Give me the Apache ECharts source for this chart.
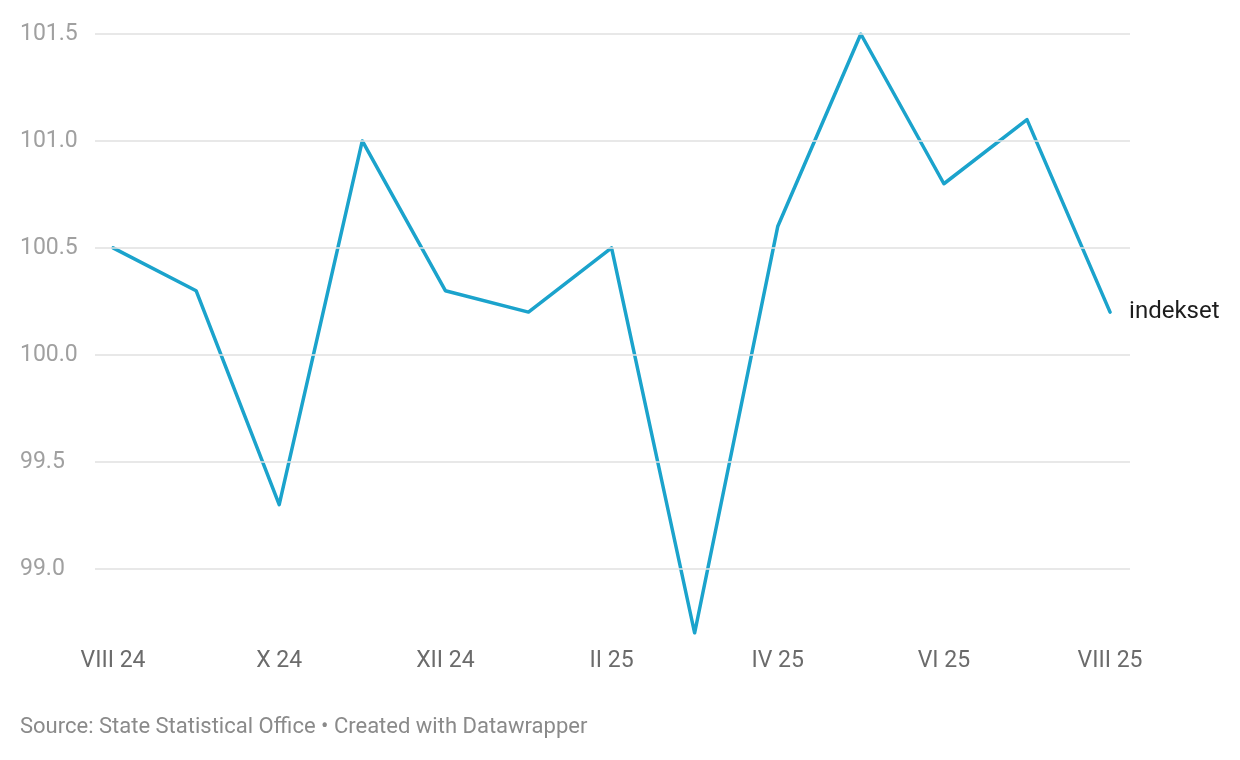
<!DOCTYPE html>
<html>
<head>
<meta charset="utf-8">
<script src="https://cdn.jsdelivr.net/npm/echarts@6/dist/echarts.min.js"></script>
<style>
html,body{margin:0;padding:0;background:#fff;}
#chart{width:1240px;height:760px;}
</style>
</head>
<body>
<div id="chart"></div>
<script>
const categories = ['VIII 24','IX 24','X 24','XI 24','XII 24','I 25','II 25','III 25','IV 25','V 25','VI 25','VII 25','VIII 25'];
const values = [100.5, 100.3, 99.3, 101.0, 100.3, 100.2, 100.5, 98.7, 100.6, 101.5, 100.8, 101.1, 100.2];
const xTickIndices = [0, 2, 4, 6, 8, 10, 12];
const yTicks = [99.0, 99.5, 100.0, 100.5, 101.0, 101.5];
const seriesName = 'indekset';
const sourceText = 'Source: State Statistical Office • Created with Datawrapper';

const chart = echarts.init(document.getElementById('chart'));
chart.setOption({
  animation: false,
  backgroundColor: '#ffffff',
  textStyle: { fontFamily: 'Roboto' },
  grid: { left: 95, right: 110, top: 34, bottom: 127, containLabel: false },
  xAxis: {
    type: 'value',
    min: -0.217,
    max: 12.24,
    axisLine: { show: false },
    axisTick: { show: false },
    splitLine: { show: false },
    axisLabel: {
      customValues: xTickIndices,
      formatter: v => categories[Math.round(v)] || '',
      color: '#6b6b6b',
      fontSize: 23,
      fontFamily: 'Roboto',
      margin: 17
    }
  },
  yAxis: {
    type: 'value',
    min: 98.7,
    max: 101.5,
    axisLine: { show: false },
    axisTick: { show: false },
    splitLine: { show: false },
    axisLabel: {
      customValues: yTicks,
      formatter: v => v.toFixed(1),
      color: '#a0a0a0',
      fontSize: 23,
      fontFamily: 'Roboto',
      align: 'left',
      margin: 75,
      padding: [3, 0, 0, 0]
    }
  },
  series: [
    {
      type: 'line',
      data: [],
      silent: true,
      markLine: {
        silent: true,
        symbol: ['none', 'none'],
        label: { show: false },
        lineStyle: { color: '#e0e0e0', width: 1.5, type: 'solid' },
        data: yTicks.map(v => ({ yAxis: v }))
      }
    },
    {
      type: 'line',
      name: seriesName,
      data: values.map((v, i) => [i, v]),
      symbol: 'none',
      lineStyle: { color: '#1ba3cc', width: 3.5, cap: 'round', join: 'round' },
      itemStyle: { color: '#1ba3cc' },
      endLabel: {
        show: true,
        formatter: seriesName,
        color: '#1d1d1d',
        fontSize: 24,
        fontFamily: 'Roboto',
        distance: 19
      }
    }
  ],
  graphic: [
    {
      type: 'text',
      left: 20,
      top: 716,
      style: {
        text: sourceText,
        fill: '#8a8a8a',
        fontSize: 22,
        fontFamily: 'Roboto'
      }
    }
  ]
});
</script>
</body>
</html>
